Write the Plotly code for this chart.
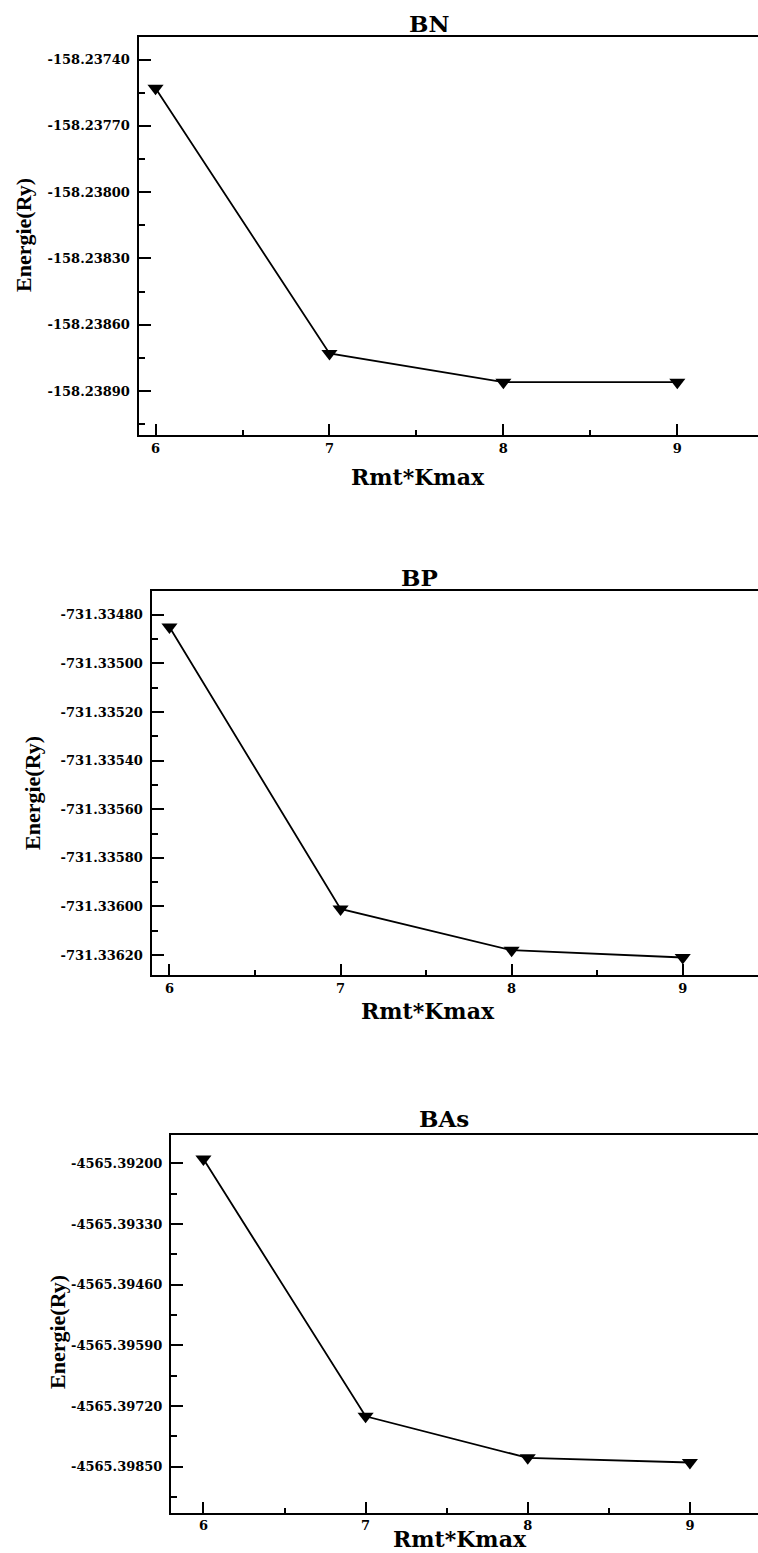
import plotly.graph_objects as go

W, H = 758, 1553

rkmax = [6, 7, 8, 9]
bn_energy = [-158.23753, -158.23873, -158.23886, -158.23886]
bp_energy = [-731.33485, -731.33601, -731.33618, -731.33621]
bas_energy = [-4565.39191, -4565.39742, -4565.39831, -4565.39841]

bn_ticks = ["-158.23740", "-158.23770", "-158.23800", "-158.23830", "-158.23860", "-158.23890"]
bp_ticks = ["-731.33480", "-731.33500", "-731.33520", "-731.33540", "-731.33560",
            "-731.33580", "-731.33600", "-731.33620"]
bas_ticks = ["-4565.39200", "-4565.39330", "-4565.39460", "-4565.39590",
             "-4565.39720", "-4565.39850"]

titles = ["BN", "BP", "BAs"]
x_title = "Rmt*Kmax"
y_title = "Energie(Ry)"

# panel geometry in pixels
panels = [
    dict(y=bn_energy, ticks=bn_ticks, left=138.5, top=37, bottom=435, xr=[5.902, 9.464],
         yr=[-158.239099, -158.237298], dtick=0.0003,
         tx=429, ty=23.5, xtx=418, xty=477, ytx=24, yty=235),
    dict(y=bp_energy, ticks=bp_ticks, left=151.5, top=591, bottom=975, xr=[5.895, 9.44],
         yr=[-731.336282, -731.334702], dtick=0.0002,
         tx=419, ty=577, xtx=428, xty=1011, ytx=33, yty=793),
    dict(y=bas_energy, ticks=bas_ticks, left=171, top=1135, bottom=1512.7, xr=[5.80, 9.42],
         yr=[-4565.399485, -4565.391394], dtick=0.0013,
         tx=444, ty=1118, xtx=460, xty=None, ytx=57, yty=1332),
]

def px(x):
    return x / W

def py(y):
    return 1 - y / H

fig = go.Figure()
tick_font = dict(family="DejaVu Serif", size=13, color="black", weight="bold")
annotations = []

for i, p in enumerate(panels):
    n = "" if i == 0 else str(i + 1)
    tickvals = [float(s) for s in p["ticks"]]
    fig.add_trace(go.Scatter(
        x=rkmax, y=p["y"], mode="lines+markers",
        line=dict(color="black", width=1.8),
        marker=dict(symbol="triangle-down", size=14, color="black"),
        xaxis="x" + n, yaxis="y" + n, showlegend=False,
    ))
    fig.layout["xaxis" + n] = dict(
        domain=[px(p["left"]), 1], anchor="y" + n, range=p["xr"],
        showline=True, linecolor="black", linewidth=2, mirror=True,
        showgrid=False, zeroline=False,
        ticks="inside", ticklen=11, tickwidth=2, tickcolor="black",
        tickmode="linear", tick0=6, dtick=1, tickfont=tick_font,
        minor=dict(ticks="inside", ticklen=5, tickwidth=2, tickcolor="black",
                   dtick=0.5, tick0=6, showgrid=False),
    )
    fig.layout["yaxis" + n] = dict(
        domain=[py(p["bottom"]), py(p["top"])], anchor="x" + n, range=p["yr"],
        showline=True, linecolor="black", linewidth=2, mirror=False,
        showgrid=False, zeroline=False,
        ticks="inside", ticklen=12, tickwidth=2, tickcolor="black",
        tickmode="array", tickvals=tickvals, ticktext=p["ticks"],
        tickfont=tick_font, ticklabelstandoff=4,
        minor=dict(ticks="inside", ticklen=6, tickwidth=2, tickcolor="black",
                   dtick=p["dtick"] / 2, tick0=tickvals[0], showgrid=False),
    )
    annotations.append(dict(
        text="<b>%s</b>" % titles[i], x=px(p["tx"]), y=py(p["ty"]),
        xref="paper", yref="paper", showarrow=False,
        xanchor="center", yanchor="middle",
        font=dict(family="DejaVu Serif", size=23, color="black"),
    ))
    if p["xty"] is None:
        xt_y, xt_anchor = 0, "bottom"
    else:
        xt_y, xt_anchor = py(p["xty"]), "middle"
    annotations.append(dict(
        text="<b>%s</b>" % x_title, x=px(p["xtx"]), y=xt_y,
        xref="paper", yref="paper", showarrow=False,
        xanchor="center", yanchor=xt_anchor, borderpad=0,
        font=dict(family="DejaVu Serif", size=22, color="black"),
    ))
    annotations.append(dict(
        text="<b>%s</b>" % y_title, x=px(p["ytx"]), y=py(p["yty"]),
        xref="paper", yref="paper", showarrow=False, textangle=-90,
        xanchor="center", yanchor="middle",
        font=dict(family="Liberation Serif", size=22, color="black"),
    ))

fig.update_layout(
    width=W, height=H, autosize=False,
    margin=dict(l=0, r=0, t=0, b=0),
    paper_bgcolor="white", plot_bgcolor="white",
    showlegend=False, annotations=annotations,
)

fig.write_html("out.html", config={"displayModeBar": False})
